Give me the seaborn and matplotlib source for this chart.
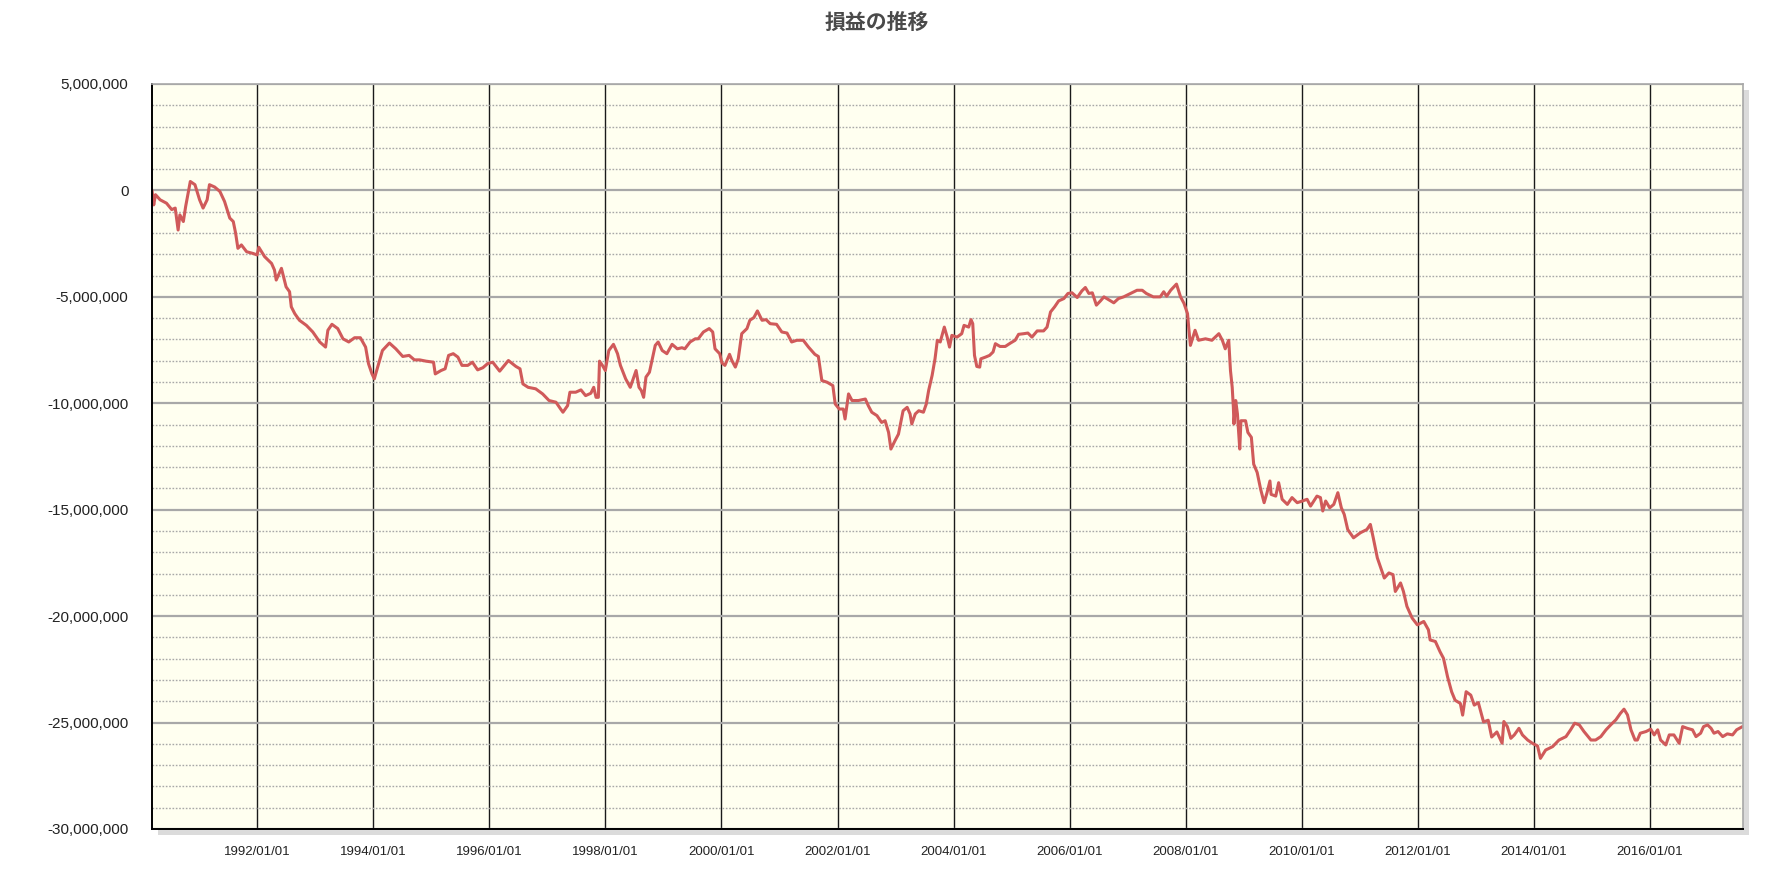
import numpy as np
import pandas as pd
import matplotlib
matplotlib.use("Agg")
import matplotlib.pyplot as plt
import matplotlib.dates as mdates
import matplotlib.ticker as mticker
import matplotlib.patheffects as pe
import seaborn as sns

# values: decimal year, P/L in millions of yen
years_90s = [1990.19, 1990.22, 1990.25, 1990.33, 1990.44, 1990.53, 1990.59, 1990.64, 1990.67, 1990.73,
             1990.77, 1990.85, 1990.93, 1991.01, 1991.07, 1991.14, 1991.18, 1991.27, 1991.36, 1991.44,
             1991.53, 1991.59, 1991.63, 1991.67, 1991.73, 1991.82, 1991.93, 1992.00, 1992.03, 1992.13,
             1992.25, 1992.30, 1992.33, 1992.42, 1992.50, 1992.56, 1992.59, 1992.65, 1992.73, 1992.85,
             1992.96, 1993.08, 1993.18, 1993.22, 1993.29, 1993.39, 1993.48, 1993.58, 1993.68, 1993.78,
             1993.87, 1993.92, 1993.98, 1994.02, 1994.11, 1994.16, 1994.28, 1994.39, 1994.51, 1994.62,
             1994.71, 1994.80, 1994.91, 1995.04, 1995.07, 1995.17, 1995.24, 1995.30, 1995.38, 1995.46,
             1995.53, 1995.63, 1995.71, 1995.80, 1995.89, 1995.97, 1996.06, 1996.18, 1996.33, 1996.46,
             1996.53, 1996.58, 1996.67, 1996.80, 1996.92, 1997.03, 1997.15, 1997.23, 1997.27, 1997.35,
             1997.39, 1997.49, 1997.58, 1997.66, 1997.75, 1997.80, 1997.84, 1997.88, 1997.90, 1997.95,
             1998.00, 1998.06, 1998.14, 1998.21, 1998.26, 1998.35, 1998.43, 1998.47, 1998.53, 1998.58,
             1998.62, 1998.66, 1998.70, 1998.76, 1998.81, 1998.86, 1998.91, 1998.98, 1999.06, 1999.15,
             1999.24, 1999.32, 1999.37, 1999.46, 1999.55, 1999.60, 1999.69, 1999.79, 1999.85, 1999.89,
             1999.97]
pnl_90s = [0.0, -0.68, -0.2, -0.44, -0.6, -0.9, -0.83, -1.86, -1.15, -1.46,
           -0.75, 0.42, 0.27, -0.44, -0.83, -0.44, 0.27, 0.16, -0.05, -0.52,
           -1.30, -1.46, -2.0, -2.72, -2.56, -2.88, -2.96, -3.03, -2.67, -3.11,
           -3.43, -3.74, -4.21, -3.66, -4.53, -4.76, -5.47, -5.79, -6.10, -6.34,
           -6.65, -7.12, -7.36, -6.57, -6.29, -6.49, -6.97, -7.12, -6.92, -6.92,
           -7.36, -8.14, -8.62, -8.85, -7.99, -7.52, -7.17, -7.44, -7.80, -7.75,
           -7.96, -7.96, -8.02, -8.07, -8.62, -8.46, -8.38, -7.75, -7.67, -7.83,
           -8.22, -8.22, -8.07, -8.43, -8.33, -8.14, -8.07, -8.49, -7.99, -8.27,
           -8.38, -9.09, -9.25, -9.32, -9.56, -9.87, -9.95, -10.27, -10.42, -10.11,
           -9.48, -9.48, -9.37, -9.64, -9.53, -9.25, -9.72, -9.72, -8.02, -8.22,
           -8.46, -7.52, -7.23, -7.67, -8.22, -8.85, -9.25, -8.93, -8.46, -9.25,
           -9.40, -9.72, -8.77, -8.54, -7.91, -7.28, -7.12, -7.52, -7.67, -7.23,
           -7.44, -7.39, -7.44, -7.12, -6.97, -6.97, -6.65, -6.49, -6.65, -7.44,
           -7.67]

years_00s = [2000.01, 2000.06, 2000.14, 2000.18, 2000.24, 2000.29, 2000.35, 2000.44, 2000.49, 2000.56,
             2000.62, 2000.70, 2000.77, 2000.84, 2000.95, 2001.04, 2001.13, 2001.21, 2001.30, 2001.41,
             2001.50, 2001.61, 2001.67, 2001.73, 2001.82, 2001.92, 2001.96, 2002.03, 2002.10, 2002.13,
             2002.19, 2002.25, 2002.36, 2002.48, 2002.53, 2002.59, 2002.68, 2002.76, 2002.82, 2002.88,
             2002.92, 2002.99, 2003.05, 2003.13, 2003.20, 2003.25, 2003.28, 2003.34, 2003.40, 2003.48,
             2003.53, 2003.57, 2003.63, 2003.68, 2003.72, 2003.77, 2003.84, 2003.89, 2003.93, 2003.97,
             2004.06, 2004.14, 2004.18, 2004.26, 2004.30, 2004.33, 2004.36, 2004.40, 2004.45, 2004.47,
             2004.55, 2004.62, 2004.68, 2004.72, 2004.80, 2004.89, 2004.98, 2005.06, 2005.12, 2005.21,
             2005.28, 2005.35, 2005.44, 2005.55, 2005.61, 2005.67, 2005.74, 2005.81, 2005.90, 2005.97,
             2006.04, 2006.13, 2006.21, 2006.27, 2006.33, 2006.39, 2006.46, 2006.53, 2006.59, 2006.67,
             2006.76, 2006.84, 2006.93, 2007.05, 2007.16, 2007.25, 2007.32, 2007.44, 2007.56, 2007.62,
             2007.67, 2007.74, 2007.84, 2007.91, 2007.97, 2008.03, 2008.05, 2008.08, 2008.16, 2008.22,
             2008.34, 2008.45, 2008.57, 2008.63, 2008.68, 2008.74, 2008.77, 2008.80, 2008.82, 2008.83,
             2008.86, 2008.89, 2008.93, 2008.95]
pnl_00s = [-8.11, -8.22, -7.70, -7.99, -8.30, -7.91, -6.73, -6.49, -6.10, -5.97,
           -5.66, -6.10, -6.07, -6.26, -6.29, -6.65, -6.70, -7.12, -7.04, -7.04,
           -7.36, -7.70, -7.80, -8.93, -9.01, -9.17, -10.03, -10.27, -10.27, -10.74,
           -9.56, -9.87, -9.87, -9.80, -10.11, -10.42, -10.58, -10.90, -10.82, -11.37,
           -12.15, -11.76, -11.45, -10.35, -10.19, -10.50, -10.97, -10.50, -10.35, -10.42,
           -10.03, -9.40, -8.69, -7.91, -7.04, -7.12, -6.42, -6.89, -7.36, -6.81,
           -6.89, -6.73, -6.34, -6.42, -6.07, -6.26, -7.75, -8.27, -8.30, -7.91,
           -7.83, -7.75, -7.59, -7.20, -7.33, -7.33, -7.17, -7.04, -6.76, -6.73,
           -6.70, -6.89, -6.60, -6.60, -6.42, -5.71, -5.47, -5.19, -5.08, -4.84,
           -4.81, -5.03, -4.72, -4.56, -4.84, -4.81, -5.39, -5.19, -5.00, -5.13,
           -5.28, -5.08, -5.00, -4.84, -4.69, -4.69, -4.84, -5.00, -5.00, -4.76,
           -4.97, -4.69, -4.40, -5.00, -5.31, -5.79, -6.42, -7.28, -6.57, -7.04,
           -6.97, -7.04, -6.73, -7.04, -7.44, -7.04, -8.46, -9.25, -10.19, -10.97,
           -9.87, -10.50, -12.15, -10.82]

years_10s = [2009.03, 2009.07, 2009.13, 2009.17, 2009.23, 2009.29, 2009.35, 2009.40, 2009.45, 2009.47,
             2009.55, 2009.60, 2009.66, 2009.75, 2009.83, 2009.92, 2010.01, 2010.09, 2010.15, 2010.26,
             2010.32, 2010.36, 2010.41, 2010.48, 2010.55, 2010.62, 2010.68, 2010.73, 2010.79, 2010.89,
             2011.01, 2011.12, 2011.18, 2011.23, 2011.30, 2011.35, 2011.42, 2011.50, 2011.57, 2011.61,
             2011.70, 2011.75, 2011.81, 2011.90, 2011.99, 2012.10, 2012.18, 2012.21, 2012.30, 2012.38,
             2012.44, 2012.51, 2012.58, 2012.64, 2012.73, 2012.77, 2012.83, 2012.91, 2012.97, 2013.04,
             2013.13, 2013.21, 2013.27, 2013.36, 2013.40, 2013.45, 2013.48, 2013.54, 2013.60, 2013.66,
             2013.74, 2013.80, 2013.89, 2013.97, 2014.06, 2014.11, 2014.20, 2014.32, 2014.43, 2014.55,
             2014.63, 2014.70, 2014.78, 2014.86, 2014.98, 2015.06, 2015.15, 2015.24, 2015.32, 2015.41,
             2015.49, 2015.55, 2015.61, 2015.67, 2015.74, 2015.78, 2015.83, 2015.93, 2016.01, 2016.07,
             2016.13, 2016.18, 2016.27, 2016.33, 2016.41, 2016.50, 2016.56, 2016.64, 2016.73, 2016.79,
             2016.87, 2016.92, 2016.99, 2017.05, 2017.10, 2017.17, 2017.25, 2017.33, 2017.42, 2017.49,
             2017.59]
pnl_10s = [-10.82, -11.37, -11.60, -12.86, -13.25, -14.04, -14.67, -14.20, -13.65, -14.28,
           -14.36, -13.73, -14.51, -14.75, -14.43, -14.67, -14.59, -14.51, -14.83, -14.36,
           -14.43, -15.06, -14.59, -14.91, -14.75, -14.20, -14.91, -15.22, -15.93, -16.32,
           -16.08, -15.93, -15.69, -16.32, -17.26, -17.66, -18.21, -17.97, -18.05, -18.84,
           -18.44, -18.84, -19.54, -20.09, -20.41, -20.25, -20.64, -21.12, -21.19, -21.67,
           -21.98, -22.85, -23.55, -23.95, -24.10, -24.65, -23.55, -23.71, -24.18, -24.06,
           -24.97, -24.89, -25.68, -25.44, -25.68, -25.97, -24.95, -25.19, -25.74, -25.58,
           -25.27, -25.58, -25.82, -25.97, -26.10, -26.68, -26.29, -26.13, -25.82, -25.66,
           -25.34, -25.03, -25.11, -25.42, -25.82, -25.82, -25.66, -25.34, -25.11, -24.87,
           -24.56, -24.37, -24.64, -25.34, -25.82, -25.82, -25.50, -25.42, -25.31, -25.58,
           -25.34, -25.82, -26.05, -25.58, -25.58, -25.97, -25.19, -25.27, -25.34, -25.66,
           -25.50, -25.19, -25.11, -25.27, -25.50, -25.42, -25.66, -25.53, -25.58, -25.34,
           -25.19]

x_start, x_end = 1990.19, 2017.60


def to_dates(yrs):
    yrs = np.asarray(yrs, dtype=float)
    return pd.Timestamp("1990-01-01") + pd.to_timedelta((yrs - 1990) * 365.25, unit="D")


years = years_90s + years_00s + years_10s
pnl = pnl_90s + pnl_00s + pnl_10s
df = pd.DataFrame({"date": to_dates(years), "pnl": np.array(pnl) * 1e6})

sns.set_style("white")
plt.rcParams["font.family"] = ["Liberation Sans", "DejaVu Sans"]

fig = plt.figure(figsize=(17.92, 8.94), dpi=100)
ax = fig.add_axes([152 / 1792, 1 - 829 / 894, (1743 - 152) / 1792, (829 - 84) / 894])
ax.set_facecolor("#FFFFF0")
ax.patch.set_path_effects([pe.SimplePatchShadow(offset=(4, -4), shadow_rgbFace="#b0b0b0", alpha=0.45),
                           pe.Normal()])
ax.set_axisbelow(True)

sns.lineplot(data=df, x="date", y="pnl", ax=ax, color="#D05A5A", lw=2.2)

ax.set_xlim(to_dates([x_start, x_end]))
ax.set_ylim(-30e6, 5e6)
ax.yaxis.set_major_locator(mticker.MultipleLocator(5e6))
ax.yaxis.set_minor_locator(mticker.MultipleLocator(1e6))
ax.yaxis.set_major_formatter(mticker.FuncFormatter(lambda v, p: f"{int(round(v)):,}"))
ax.xaxis.set_major_locator(mdates.YearLocator(base=2))
ax.xaxis.set_major_formatter(mdates.DateFormatter("%Y/%m/%d"))

ax.yaxis.grid(True, which="major", color="#A8A8A8", lw=1.6)
ax.yaxis.grid(True, which="minor", color="#A8A8A8", lw=1.0, linestyle=(0, (1.2, 1.2)))
ax.xaxis.grid(True, which="major", color="#1a1a1a", lw=1.0)

ax.tick_params(axis="y", which="major", length=14, width=1.3, color="black",
               labelsize=11, labelcolor="#222222", pad=3)
ax.tick_params(axis="y", which="minor", length=0)
ax.tick_params(axis="x", which="major", length=7, width=1.0, color="#1a1a1a",
               labelsize=9.5, labelcolor="#222222", pad=5)

for side in ["left", "bottom"]:
    ax.spines[side].set_color("black")
    ax.spines[side].set_linewidth(1.4)
for side in ["top", "right"]:
    ax.spines[side].set_color("#A8A8A8")
    ax.spines[side].set_linewidth(1.2)

ax.set_xlabel("")
ax.set_ylabel("")

fig.text(877 / 1792, 1 - 22 / 894, "損益の推移", ha="center", va="center", fontsize=15,
         fontweight="bold", color="#4a4a4a", family=["Noto Sans CJK JP", "DejaVu Sans"])

fig.savefig("out.png", dpi=100, facecolor="white")
